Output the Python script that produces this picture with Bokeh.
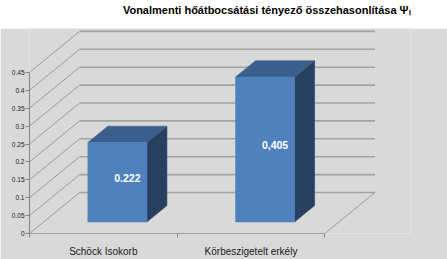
from bokeh.plotting import figure
from bokeh.layouts import column
from bokeh.models import Range1d, LinearAxis, FixedTicker, ColumnDataSource, Title
from bokeh.embed import file_html
from bokeh.resources import INLINE
from bokeh.core.properties import value

# ---------------- data ----------------
title_text = "Vonalmenti hőátbocsátási tényező összehasonlítása Ψₗ"
categories = ["Schöck Isokorb", "Körbeszigetelt erkély"]
values = [0.222, 0.405]
value_labels = ["0.222", "0,405"]
y_ticks = [0, 0.05, 0.1, 0.15, 0.2, 0.25, 0.3, 0.35, 0.4, 0.45]
y_tick_labels = ["0", "0.05", "0.1", "0.15", "0.2", "0.25", "0.3", "0.35", "0.4", "0.45"]

# ---------------- layout / style constants ----------------
W, H_TITLE, H = 447, 28, 231
LEFT, BOTTOM = 29, 26
PX_CAT, PX_VAL = 162, 358          # pixels per category / per unit value
DX = 55 / PX_CAT                   # depth offset (x units)
DY = 41 / PX_VAL                   # depth offset (value units)
BAR_W = 0.4
F_FRONT, F_BACK = 0.28, 0.68       # bar front/back position in depth
BG = "#d9d9d9"
FONT = "Liberation Sans"
FRONT_C, TOP_C, SIDE_C = "#4f81bd", "#3a5f8c", "#27405f"

n = len(categories)

# ---------------- title figure ----------------
tf = figure(width=W, height=H_TITLE, toolbar_location=None, output_backend="svg",
            x_axis_type=None, y_axis_type=None, min_border_left=0, min_border_right=37,
            min_border_top=7, min_border_bottom=0, outline_line_color=None,
            background_fill_color="white", border_fill_color="white",
            x_range=Range1d(0, 1), y_range=Range1d(0, 1))
tf.title = Title(text=title_text, align="right", text_font=FONT, text_font_size="11px",
                 text_font_style="bold", text_color="black", standoff=3)
tf.grid.visible = False

# ---------------- main figure ----------------
p = figure(width=W, height=H, toolbar_location=None, output_backend="svg",
           x_range=Range1d(0, (W - LEFT) / PX_CAT), y_range=Range1d(0, (H - BOTTOM) / PX_VAL),
           x_axis_type=None, y_axis_type=None,
           min_border_left=LEFT, min_border_right=0, min_border_top=0, min_border_bottom=BOTTOM,
           background_fill_color=BG, border_fill_color=BG, outline_line_color=None)

# y axis (front wall)
yaxis = LinearAxis(ticker=FixedTicker(ticks=y_ticks), bounds=(y_ticks[0], y_ticks[-1]),
                   major_label_overrides={t: l for t, l in zip(y_ticks, y_tick_labels)},
                   axis_line_color="#868686", major_tick_line_color="#868686",
                   major_tick_out=4, major_tick_in=0, minor_tick_line_color=None,
                   major_label_standoff=1, major_label_text_font=FONT,
                   major_label_text_font_size="6.5px", major_label_text_color="#222222")
p.add_layout(yaxis, "left")

# x axis (front floor edge)
centers = [i + 0.5 for i in range(n)]
xaxis = LinearAxis(ticker=FixedTicker(ticks=centers, minor_ticks=list(range(n + 1))),
                   bounds=(0, n),
                   major_label_overrides={c: cat for c, cat in zip(centers, categories)},
                   axis_line_color="#a0a0a0", major_tick_out=0, major_tick_in=0,
                   minor_tick_line_color="#868686", minor_tick_out=4, minor_tick_in=0,
                   major_label_standoff=8, major_label_text_font=FONT,
                   major_label_text_font_size="10px", major_label_text_color="#1a1a1a")
p.add_layout(xaxis, "below")

# back wall grid lines
p.segment(x0=[DX] * len(y_ticks), y0=[t + DY for t in y_ticks],
          x1=[n + DX] * len(y_ticks), y1=[t + DY for t in y_ticks],
          line_color="#a2a2a2", line_width=1.6)
# side wall diagonals
p.segment(x0=[0] * len(y_ticks), y0=y_ticks,
          x1=[DX] * len(y_ticks), y1=[t + DY for t in y_ticks],
          line_color="#9a9a9a", line_width=1)
# floor right edge
p.segment(x0=[n], y0=[0], x1=[n + DX], y1=[DY], line_color="#9a9a9a", line_width=1)

# bars
front_xs, front_ys, top_xs, top_ys, side_xs, side_ys = [], [], [], [], [], []
for c, v in zip(centers, values):
    xl, xr = c - BAR_W / 2, c + BAR_W / 2
    fx, fy = F_FRONT * DX, F_FRONT * DY
    bx, by = F_BACK * DX, F_BACK * DY
    front_xs.append([xl + fx, xr + fx, xr + fx, xl + fx])
    front_ys.append([fy, fy, v + fy, v + fy])
    top_xs.append([xl + fx, xr + fx, xr + bx, xl + bx])
    top_ys.append([v + fy, v + fy, v + by, v + by])
    side_xs.append([xr + fx, xr + bx, xr + bx, xr + fx])
    side_ys.append([fy, by, v + by, v + fy])

p.patches(side_xs, side_ys, fill_color=SIDE_C, line_color=SIDE_C, line_width=0.5)
p.patches(top_xs, top_ys, fill_color=TOP_C, line_color=TOP_C, line_width=0.5)
p.patches(front_xs, front_ys, fill_color=FRONT_C, line_color=FRONT_C, line_width=0.5)

# value labels
mid = (F_FRONT + F_BACK) / 2
lab_src = ColumnDataSource(dict(
    x=[c + mid * DX for c in centers],
    y=[v / 2 + 0.045 for v in values],
    t=value_labels))
p.text(x="x", y="y", text="t", source=lab_src, text_align="center", text_baseline="middle",
       text_font=value(FONT), text_font_size="10.5px", text_font_style="bold", text_color="white")

layout = column(tf, p, spacing=0)
open("out.html", "w").write(file_html(layout, INLINE))
